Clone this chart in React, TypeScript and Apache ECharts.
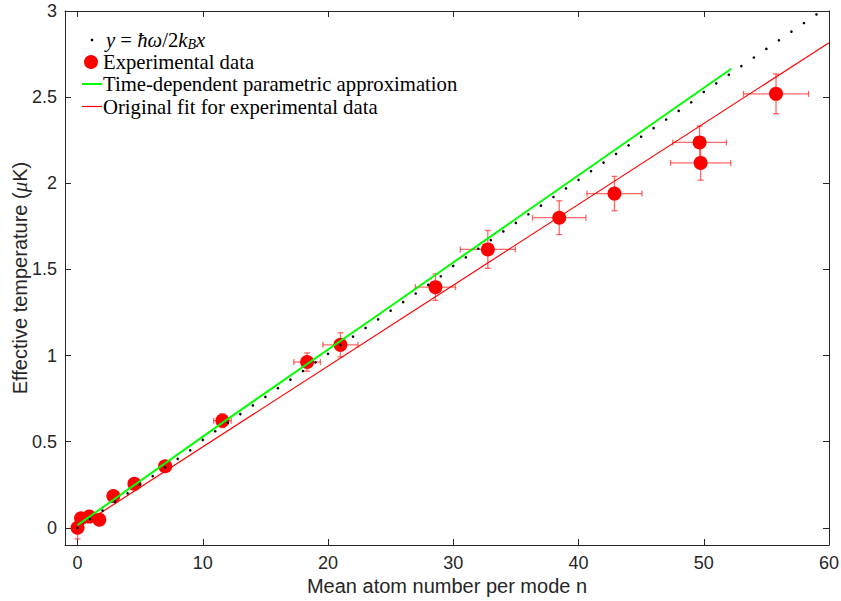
import React, { useEffect, useRef } from "react";
import * as echarts from "echarts";

// Experimental data (mean atom number n, effective temperature µK) with errors
const xExp = [0, 0.28, 0.94, 1.74, 2.86, 4.54, 7.0, 11.57, 18.33, 20.99, 28.58, 32.76, 38.46, 42.87, 49.67, 49.75, 55.77];
const yExp = [0, 0.055, 0.065, 0.047, 0.184, 0.255, 0.357, 0.622, 0.962, 1.062, 1.397, 1.616, 1.8, 1.94, 2.237, 2.118, 2.519];
const xErr = [0.1, 0.1, 0.15, 0.2, 0.3, 0.4, 0.5, 0.7, 1.06, 1.4, 1.6, 2.2, 2.13, 2.2, 2.14, 2.4, 2.6];
const yErr = [0.065, 0.02, 0.02, 0.02, 0.02, 0.025, 0.03, 0.04, 0.053, 0.07, 0.077, 0.11, 0.098, 0.1, 0.095, 0.1, 0.115];

// Dotted reference line y = hbar*omega / 2 k_B x (read at integer n)
const xDots = [0, 1, 2, 3, 4, 5, 6, 7, 8, 9, 10, 11, 12, 13, 14, 15, 16, 17, 18, 19, 20, 21, 22, 23, 24, 25, 26, 27, 28, 29, 30, 31, 32, 33, 34, 35, 36, 37, 38, 39, 40, 41, 42, 43, 44, 45, 46, 47, 48, 49, 50, 51, 52, 53, 54, 55, 56, 57, 58, 59];
const yDots = [0, 0.05, 0.1, 0.15, 0.2, 0.25, 0.3, 0.35, 0.4, 0.45, 0.51, 0.56, 0.61, 0.66, 0.71, 0.76, 0.81, 0.86, 0.91, 0.96, 1.01, 1.06, 1.11, 1.16, 1.21, 1.26, 1.31, 1.36, 1.41, 1.46, 1.52, 1.57, 1.62, 1.67, 1.72, 1.77, 1.82, 1.87, 1.92, 1.97, 2.02, 2.07, 2.12, 2.17, 2.22, 2.27, 2.32, 2.37, 2.42, 2.47, 2.53, 2.58, 2.63, 2.68, 2.73, 2.78, 2.83, 2.88, 2.93, 2.98];

// Time-dependent parametric approximation (green)
const xGreen = [0, 12.18, 24.16, 52.2];
const yGreen = [0.015, 0.641, 1.244, 2.665];

// Original fit (red)
const xRed = [0, 60];
const yRed = [0, 2.816];

const xTicks = [0, 10, 20, 30, 40, 50, 60];
const yTicks = [0, 0.5, 1, 1.5, 2, 2.5, 3];

const legendLabels = [
  "{i|y} = {i|ħω}/2{i|k}{s|B}{i|x}",
  "Experimental data",
  "Time-dependent parametric approximation",
  "Original fit for experimental data",
];

const AX = "#262626";

export default function App() {
  const ref = useRef<HTMLDivElement>(null);
  useEffect(() => {
    document.body.style.margin = "0";
    if (!ref.current) return;
    const chart = echarts.init(ref.current, null, { renderer: "svg" });
    const zip = (a: number[], b: number[]) => a.map((v, i) => [v, b[i]]);
    const errData = xExp.map((v, i) => [v, yExp[i], xErr[i], yErr[i]]);
    const ebColor = "rgba(255,40,40,0.7)";
    const sans = "'Liberation Sans', Arial, Helvetica, sans-serif";
    const serif = "'Liberation Serif', 'Times New Roman', serif";
    const tickStyle = { show: true, inside: true, length: 6, lineStyle: { color: AX, width: 1 } };
    const rowY = [40, 62, 84, 106.5];
    const textX = 103;

    const option: any = {
      animation: false,
      backgroundColor: "#ffffff",
      grid: { left: 65, right: 12, top: 11, bottom: 56, containLabel: false, outerBoundsMode: "none" },
      xAxis: [
        {
          type: "value",
          min: -1,
          max: 60,
          position: "bottom",
          axisLine: { show: true, onZero: false, lineStyle: { color: AX, width: 1 } },
          axisTick: { ...tickStyle, customValues: xTicks },
          axisLabel: { customValues: xTicks, color: AX, fontSize: 18, fontFamily: sans, margin: 9 },
          splitLine: { show: false },
          name: "Mean atom number per mode n",
          nameLocation: "middle",
          nameGap: 31,
          nameMoveOverlap: false,
          nameTextStyle: { color: AX, fontSize: 20, fontFamily: sans },
        },
        {
          type: "value",
          min: -1,
          max: 60,
          position: "top",
          axisLine: { show: true, onZero: false, lineStyle: { color: AX, width: 1 } },
          axisTick: { ...tickStyle, customValues: xTicks },
          axisLabel: { show: false },
          splitLine: { show: false },
        },
      ],
      yAxis: [
        {
          type: "value",
          min: -0.1,
          max: 3,
          position: "left",
          axisLine: { show: true, onZero: false, lineStyle: { color: AX, width: 1 } },
          axisTick: { ...tickStyle, customValues: yTicks },
          axisLabel: { customValues: yTicks, color: AX, fontSize: 18, fontFamily: sans, margin: 8 },
          splitLine: { show: false },
          name: "Effective temperature ({mu|μ}K)",
          nameLocation: "middle",
          nameRotate: 90,
          nameGap: 35,
          nameMoveOverlap: false,
          nameTextStyle: {
            color: AX,
            fontSize: 20,
            fontFamily: sans,
            rich: { mu: { fontStyle: "italic", fontFamily: serif, fontSize: 21, color: AX } },
          },
        },
        {
          type: "value",
          min: -0.1,
          max: 3,
          position: "right",
          axisLine: { show: true, onZero: false, lineStyle: { color: AX, width: 1 } },
          axisTick: { ...tickStyle, customValues: yTicks },
          axisLabel: { show: false },
          splitLine: { show: false },
        },
      ],
      series: [
        {
          type: "custom",
          name: "errors",
          xAxisIndex: 0,
          yAxisIndex: 0,
          data: errData,
          encode: { x: 0, y: 1 },
          z: 1,
          clip: false,
          renderItem: (params: any, api: any) => {
            const x = api.value(0), y = api.value(1), ex = api.value(2), ey = api.value(3);
            const l = api.coord([x - ex, y]);
            const r = api.coord([x + ex, y]);
            const t = api.coord([x, y + ey]);
            const b = api.coord([x, y - ey]);
            const cap = 3;
            const st = { stroke: ebColor, lineWidth: 1.3 };
            const ln = (x1: number, y1: number, x2: number, y2: number) => ({
              type: "line",
              shape: { x1, y1, x2, y2 },
              style: st,
            });
            return {
              type: "group",
              children: [
                ln(l[0], l[1], r[0], r[1]),
                ln(l[0], l[1] - cap, l[0], l[1] + cap),
                ln(r[0], r[1] - cap, r[0], r[1] + cap),
                ln(t[0], t[1], b[0], b[1]),
                ln(t[0] - cap, t[1], t[0] + cap, t[1]),
                ln(b[0] - cap, b[1], b[0] + cap, b[1]),
              ],
            };
          },
        },
        {
          type: "scatter",
          name: "Experimental data",
          data: zip(xExp, yExp),
          symbol: "circle",
          symbolSize: 14,
          itemStyle: { color: "#ff0000", opacity: 1 },
          z: 2,
        },
        {
          type: "line",
          name: "Original fit for experimental data",
          data: zip(xRed, yRed),
          showSymbol: false,
          symbol: "none",
          lineStyle: { color: "#ff0000", width: 1.2 },
          z: 3,
        },
        {
          type: "line",
          name: "Time-dependent parametric approximation",
          data: zip(xGreen, yGreen),
          showSymbol: false,
          symbol: "none",
          lineStyle: { color: "#00ff00", width: 2 },
          z: 4,
        },
        {
          type: "scatter",
          name: "y = ħω/2k_B x",
          data: zip(xDots, yDots),
          symbol: "circle",
          symbolSize: 2.6,
          itemStyle: { color: "#000000", opacity: 1 },
          z: 5,
        },
      ],
      graphic: [
        { type: "circle", shape: { cx: 92, cy: rowY[0], r: 1.3 }, style: { fill: "#000" }, z: 10 },
        { type: "circle", shape: { cx: 91, cy: rowY[1], r: 7 }, style: { fill: "#ff0000" }, z: 10 },
        { type: "line", shape: { x1: 82, y1: rowY[2], x2: 102, y2: rowY[2] }, style: { stroke: "#00ff00", lineWidth: 2 }, z: 10 },
        { type: "line", shape: { x1: 82, y1: rowY[3], x2: 102, y2: rowY[3] }, style: { stroke: "#ff0000", lineWidth: 1.2 }, z: 10 },
        ...legendLabels.map((txt, i) => ({
          type: "text",
          x: i === 0 ? textX + 3 : textX,
          y: rowY[i],
          z: 10,
          style: {
            text: txt,
            fill: "#000",
            fontFamily: serif,
            fontSize: 20.7,
            verticalAlign: "middle",
            align: "left",
            rich: {
              i: { fontStyle: "italic", fontFamily: serif, fontSize: 20.7, fill: "#000" },
              s: { fontStyle: "italic", fontFamily: serif, fontSize: 14, fill: "#000", verticalAlign: "top", padding: [9, 0, 0, 0] },
            },
          },
        })),
      ],
    };
    chart.setOption(option);
    return () => chart.dispose();
  }, []);
  return <div ref={ref} style={{ width: 841, height: 601, position: "absolute", left: 0, top: 0 }} />;
}
